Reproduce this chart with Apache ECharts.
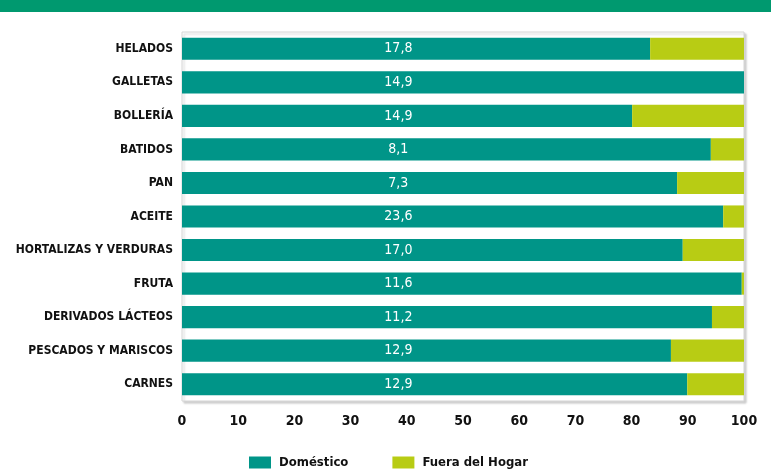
<!DOCTYPE html>
<html>
<head>
<meta charset="utf-8">
<script src="https://cdn.jsdelivr.net/npm/echarts@6/dist/echarts.min.js"></script>
<style>
html,body{margin:0;padding:0;background:#fff;}
#c{width:771px;height:471px;}
</style>
</head>
<body>
<div id="c"></div>
<script>
const categories = ["HELADOS","GALLETAS","BOLLERÍA","BATIDOS","PAN","ACEITE","HORTALIZAS Y VERDURAS","FRUTA","DERIVADOS LÁCTEOS","PESCADOS Y MARISCOS","CARNES"];
const domestico = [83.3, 100, 80.1, 94.1, 88.1, 96.3, 89.1, 99.6, 94.3, 87.0, 89.9];
const fueraHogar = [16.7, 0, 19.9, 5.9, 11.9, 3.7, 10.9, 0.4, 5.7, 13.0, 10.1];
const barLabels = ["17,8","14,9","14,9","8,1","7,3","23,6","17,0","11,6","11,2","12,9","12,9"];
const xTicks = [0,10,20,30,40,50,60,70,80,90,100];

const FONT = '"Liberation Sans Narrow","DejaVu Sans Condensed","Roboto Condensed",Arial,sans-serif';
const labelAxisPos = 38.5;

const chart = echarts.init(document.getElementById('c'), null, {renderer:'canvas'});
chart.setOption({
  animation:false,
  backgroundColor:'#fff',
  graphic:[{type:'rect',shape:{x:0,y:0,width:771,height:12},style:{fill:'#00996f'},z:10}],
  grid:{left:182,right:27,top:32,bottom:70,show:true,borderColor:'#d6d6d6',borderWidth:1,backgroundColor:'#fff',
        shadowColor:'rgba(0,0,0,0.18)',shadowBlur:2,shadowOffsetX:2,shadowOffsetY:2},
  legend:{left:244,top:451,itemWidth:22,itemHeight:12,itemGap:44,icon:'rect',
    textStyle:{fontFamily:FONT,fontWeight:'bold',fontSize:13,color:'#111',padding:[0,0,0,3]},
    data:['Doméstico','Fuera del Hogar']},
  xAxis:{type:'value',min:0,max:100,interval:10,
    axisLine:{show:false},axisTick:{show:false},splitLine:{show:false},
    axisLabel:{margin:13,fontFamily:FONT,fontWeight:'bold',fontSize:14,color:'#111',
      formatter:v=>xTicks.includes(v)?String(v):''}},
  yAxis:{type:'category',data:categories,inverse:true,
    axisLine:{show:false},axisTick:{show:false},
    axisLabel:{margin:9,fontFamily:FONT,fontWeight:'bold',fontSize:12,color:'#111'}},
  series:[
    {name:'Doméstico',type:'bar',stack:'t',barCategoryGap:'34%',
     itemStyle:{color:'#009588'},
     data:domestico.map((v,i)=>({value:v,label:{position:[(labelAxisPos/v*100)+'%','50%']}})),
     label:{show:true,align:'center',verticalAlign:'middle',color:'#fff',fontFamily:FONT,fontSize:14,fontWeight:500,
       formatter:p=>barLabels[p.dataIndex]}},
    {name:'Fuera del Hogar',type:'bar',stack:'t',
     itemStyle:{color:'#b8cc14'},data:fueraHogar}
  ]
});
</script>
</body>
</html>
